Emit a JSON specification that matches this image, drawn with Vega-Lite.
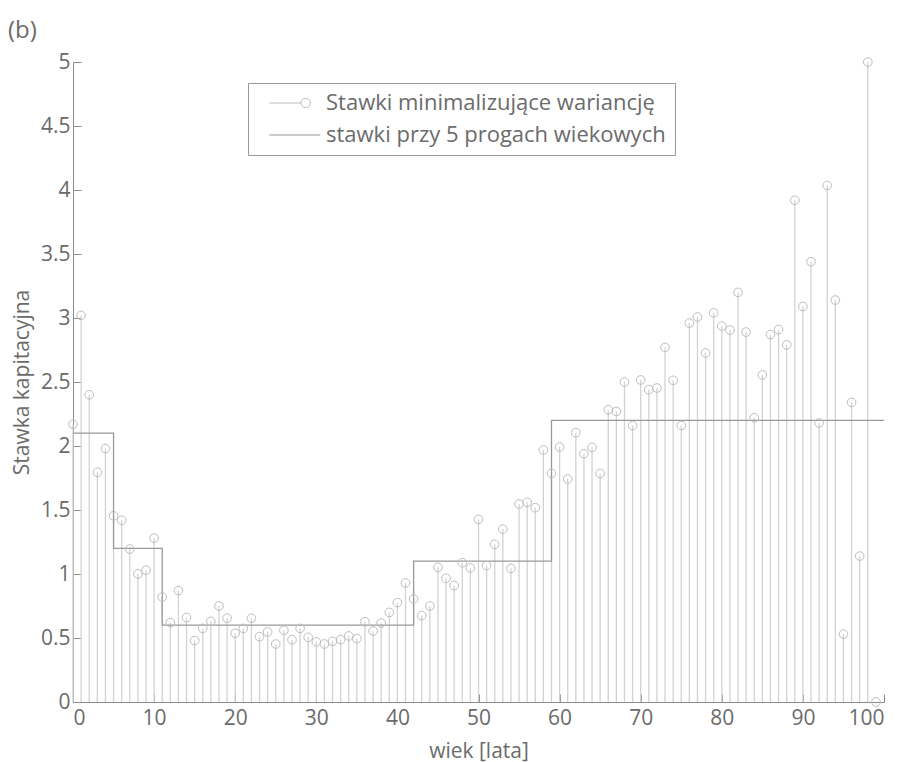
{
  "$schema": "https://vega.github.io/schema/vega-lite/v6.json",
  "autosize": "none",
  "width": 811,
  "height": 640,
  "padding": {"left": 73, "top": 62, "right": 15, "bottom": 60},
  "background": "white",
  "title": {"text": "(b)", "anchor": "start", "frame": "group", "orient": "top", "dx": -65, "offset": -11, "fontSize": 24, "fontWeight": "normal", "color": "#6b6b6b", "baseline": "alphabetic"},
  "config": {
    "font": "Open Sans",
    "view": {"stroke": null},
    "axis": {
      "grid": false,
      "domainColor": "#8c8c8c",
      "tickColor": "#8c8c8c",
      "tickSize": -8,
      "labelFontSize": 21,
      "labelColor": "#6b6b6b",
      "titleFontSize": 21,
      "titleFontWeight": "normal",
      "titleColor": "#6b6b6b"
    }
  },
  "datasets": {
    "stawki": [
      {"wiek": 0, "stawka": 2.17}, {"wiek": 1, "stawka": 3.02}, {"wiek": 2, "stawka": 2.40}, {"wiek": 3, "stawka": 1.795},
      {"wiek": 4, "stawka": 1.98}, {"wiek": 5, "stawka": 1.455}, {"wiek": 6, "stawka": 1.42}, {"wiek": 7, "stawka": 1.195},
      {"wiek": 8, "stawka": 1.0}, {"wiek": 9, "stawka": 1.03}, {"wiek": 10, "stawka": 1.28}, {"wiek": 11, "stawka": 0.82},
      {"wiek": 12, "stawka": 0.62}, {"wiek": 13, "stawka": 0.87}, {"wiek": 14, "stawka": 0.66}, {"wiek": 15, "stawka": 0.48},
      {"wiek": 16, "stawka": 0.575}, {"wiek": 17, "stawka": 0.63}, {"wiek": 18, "stawka": 0.75}, {"wiek": 19, "stawka": 0.655},
      {"wiek": 20, "stawka": 0.537}, {"wiek": 21, "stawka": 0.575}, {"wiek": 22, "stawka": 0.654}, {"wiek": 23, "stawka": 0.51},
      {"wiek": 24, "stawka": 0.547}, {"wiek": 25, "stawka": 0.453}, {"wiek": 26, "stawka": 0.56}, {"wiek": 27, "stawka": 0.487},
      {"wiek": 28, "stawka": 0.575}, {"wiek": 29, "stawka": 0.505}, {"wiek": 30, "stawka": 0.47}, {"wiek": 31, "stawka": 0.453},
      {"wiek": 32, "stawka": 0.474}, {"wiek": 33, "stawka": 0.487}, {"wiek": 34, "stawka": 0.516}, {"wiek": 35, "stawka": 0.495},
      {"wiek": 36, "stawka": 0.627}, {"wiek": 37, "stawka": 0.555}, {"wiek": 38, "stawka": 0.617}, {"wiek": 39, "stawka": 0.70},
      {"wiek": 40, "stawka": 0.776}, {"wiek": 41, "stawka": 0.93}, {"wiek": 42, "stawka": 0.805}, {"wiek": 43, "stawka": 0.675},
      {"wiek": 44, "stawka": 0.75}, {"wiek": 45, "stawka": 1.052}, {"wiek": 46, "stawka": 0.966}, {"wiek": 47, "stawka": 0.91},
      {"wiek": 48, "stawka": 1.088}, {"wiek": 49, "stawka": 1.047}, {"wiek": 50, "stawka": 1.427}, {"wiek": 51, "stawka": 1.065},
      {"wiek": 52, "stawka": 1.232}, {"wiek": 53, "stawka": 1.35}, {"wiek": 54, "stawka": 1.044}, {"wiek": 55, "stawka": 1.547},
      {"wiek": 56, "stawka": 1.56}, {"wiek": 57, "stawka": 1.518}, {"wiek": 58, "stawka": 1.969}, {"wiek": 59, "stawka": 1.786},
      {"wiek": 60, "stawka": 1.992}, {"wiek": 61, "stawka": 1.742}, {"wiek": 62, "stawka": 2.104}, {"wiek": 63, "stawka": 1.94},
      {"wiek": 64, "stawka": 1.99}, {"wiek": 65, "stawka": 1.786}, {"wiek": 66, "stawka": 2.284}, {"wiek": 67, "stawka": 2.27},
      {"wiek": 68, "stawka": 2.5}, {"wiek": 69, "stawka": 2.16}, {"wiek": 70, "stawka": 2.516}, {"wiek": 71, "stawka": 2.44},
      {"wiek": 72, "stawka": 2.453}, {"wiek": 73, "stawka": 2.77}, {"wiek": 74, "stawka": 2.513}, {"wiek": 75, "stawka": 2.16},
      {"wiek": 76, "stawka": 2.96}, {"wiek": 77, "stawka": 3.008}, {"wiek": 78, "stawka": 2.727}, {"wiek": 79, "stawka": 3.04},
      {"wiek": 80, "stawka": 2.937}, {"wiek": 81, "stawka": 2.906}, {"wiek": 82, "stawka": 3.2}, {"wiek": 83, "stawka": 2.89},
      {"wiek": 84, "stawka": 2.22}, {"wiek": 85, "stawka": 2.555}, {"wiek": 86, "stawka": 2.87}, {"wiek": 87, "stawka": 2.91},
      {"wiek": 88, "stawka": 2.79}, {"wiek": 89, "stawka": 3.92}, {"wiek": 90, "stawka": 3.09}, {"wiek": 91, "stawka": 3.44},
      {"wiek": 92, "stawka": 2.18}, {"wiek": 93, "stawka": 4.035}, {"wiek": 94, "stawka": 3.14}, {"wiek": 95, "stawka": 0.53},
      {"wiek": 96, "stawka": 2.34}, {"wiek": 97, "stawka": 1.14}, {"wiek": 98, "stawka": 5.0}, {"wiek": 99, "stawka": 0.0}
    ],
    "progi": [
      {"wiek": 0, "stawka": 2.1}, {"wiek": 5, "stawka": 1.2}, {"wiek": 11, "stawka": 0.6},
      {"wiek": 42, "stawka": 1.1}, {"wiek": 59, "stawka": 2.2}, {"wiek": 100, "stawka": 2.2}
    ]
  },
  "layer": [
    {
      "data": {"name": "stawki"},
      "mark": {"type": "rule", "color": "#d2d2d2", "strokeWidth": 1.3},
      "encoding": {
        "x": {"field": "wiek", "type": "quantitative", "scale": {"domain": [0, 100], "nice": false},
              "axis": {"values": [0, 10, 20, 30, 40, 50, 60, 70, 80, 90, 100], "labelPadding": 13, "title": "wiek [lata]", "titlePadding": 12}},
        "y": {"field": "stawka", "type": "quantitative", "scale": {"domain": [0, 5], "nice": false},
              "axis": {"values": [0, 0.5, 1, 1.5, 2, 2.5, 3, 3.5, 4, 4.5, 5], "format": "~g", "labelPadding": 11, "title": "Stawka kapitacyjna", "titlePadding": 8}},
        "y2": {"datum": 0}
      }
    },
    {
      "data": {"name": "progi"},
      "mark": {"type": "line", "interpolate": "step-after", "strokeWidth": 1.3, "color": "#999999"},
      "encoding": {
        "x": {"field": "wiek", "type": "quantitative"},
        "y": {"field": "stawka", "type": "quantitative"}
      }
    },
    {
      "data": {"name": "stawki"},
      "mark": {"type": "point", "filled": false, "size": 75, "strokeWidth": 1, "opacity": 1, "color": "#bdbdbd", "clip": false},
      "encoding": {
        "x": {"field": "wiek", "type": "quantitative"},
        "y": {"field": "stawka", "type": "quantitative"}
      }
    },
    {
      "data": {"name": "progi"},
      "mark": {"type": "point", "filled": false, "size": 0, "strokeWidth": 1, "opacity": 1},
      "encoding": {
        "x": {"field": "wiek", "type": "quantitative"},
        "y": {"field": "stawka", "type": "quantitative"},
        "color": {
          "datum": "stawki przy 5 progach wiekowych",
          "scale": {"domain": ["Stawki minimalizujące wariancję", "stawki przy 5 progach wiekowych"], "range": ["#bdbdbd", "#999999"]},
          "legend": {
            "orient": "none", "legendX": 175, "legendY": 21, "title": null,
            "padding": 9, "rowPadding": 10, "symbolSize": 400, "labelOffset": 47,
            "labelFontSize": 22, "labelColor": "#6b6b6b", "labelLimit": 0,
            "strokeColor": "#999999", "fillColor": "white", "symbolStrokeWidth": 1
          }
        },
        "shape": {
          "datum": "stawki przy 5 progach wiekowych",
          "scale": {"domain": ["Stawki minimalizujące wariancję", "stawki przy 5 progach wiekowych"],
                    "range": ["M0.13,0 L3.3,0 M4.24,0 A0.47,0.47 0 1 1 3.3,0 A0.47,0.47 0 1 1 4.24,0", "M0.13,0 L5.23,0"]},
          "legend": {
            "orient": "none", "legendX": 175, "legendY": 21, "title": null,
            "padding": 9, "rowPadding": 10, "symbolSize": 400, "labelOffset": 47,
            "labelFontSize": 22, "labelColor": "#6b6b6b", "labelLimit": 0,
            "strokeColor": "#999999", "fillColor": "white", "symbolStrokeWidth": 1
          }
        }
      }
    }
  ]
}
